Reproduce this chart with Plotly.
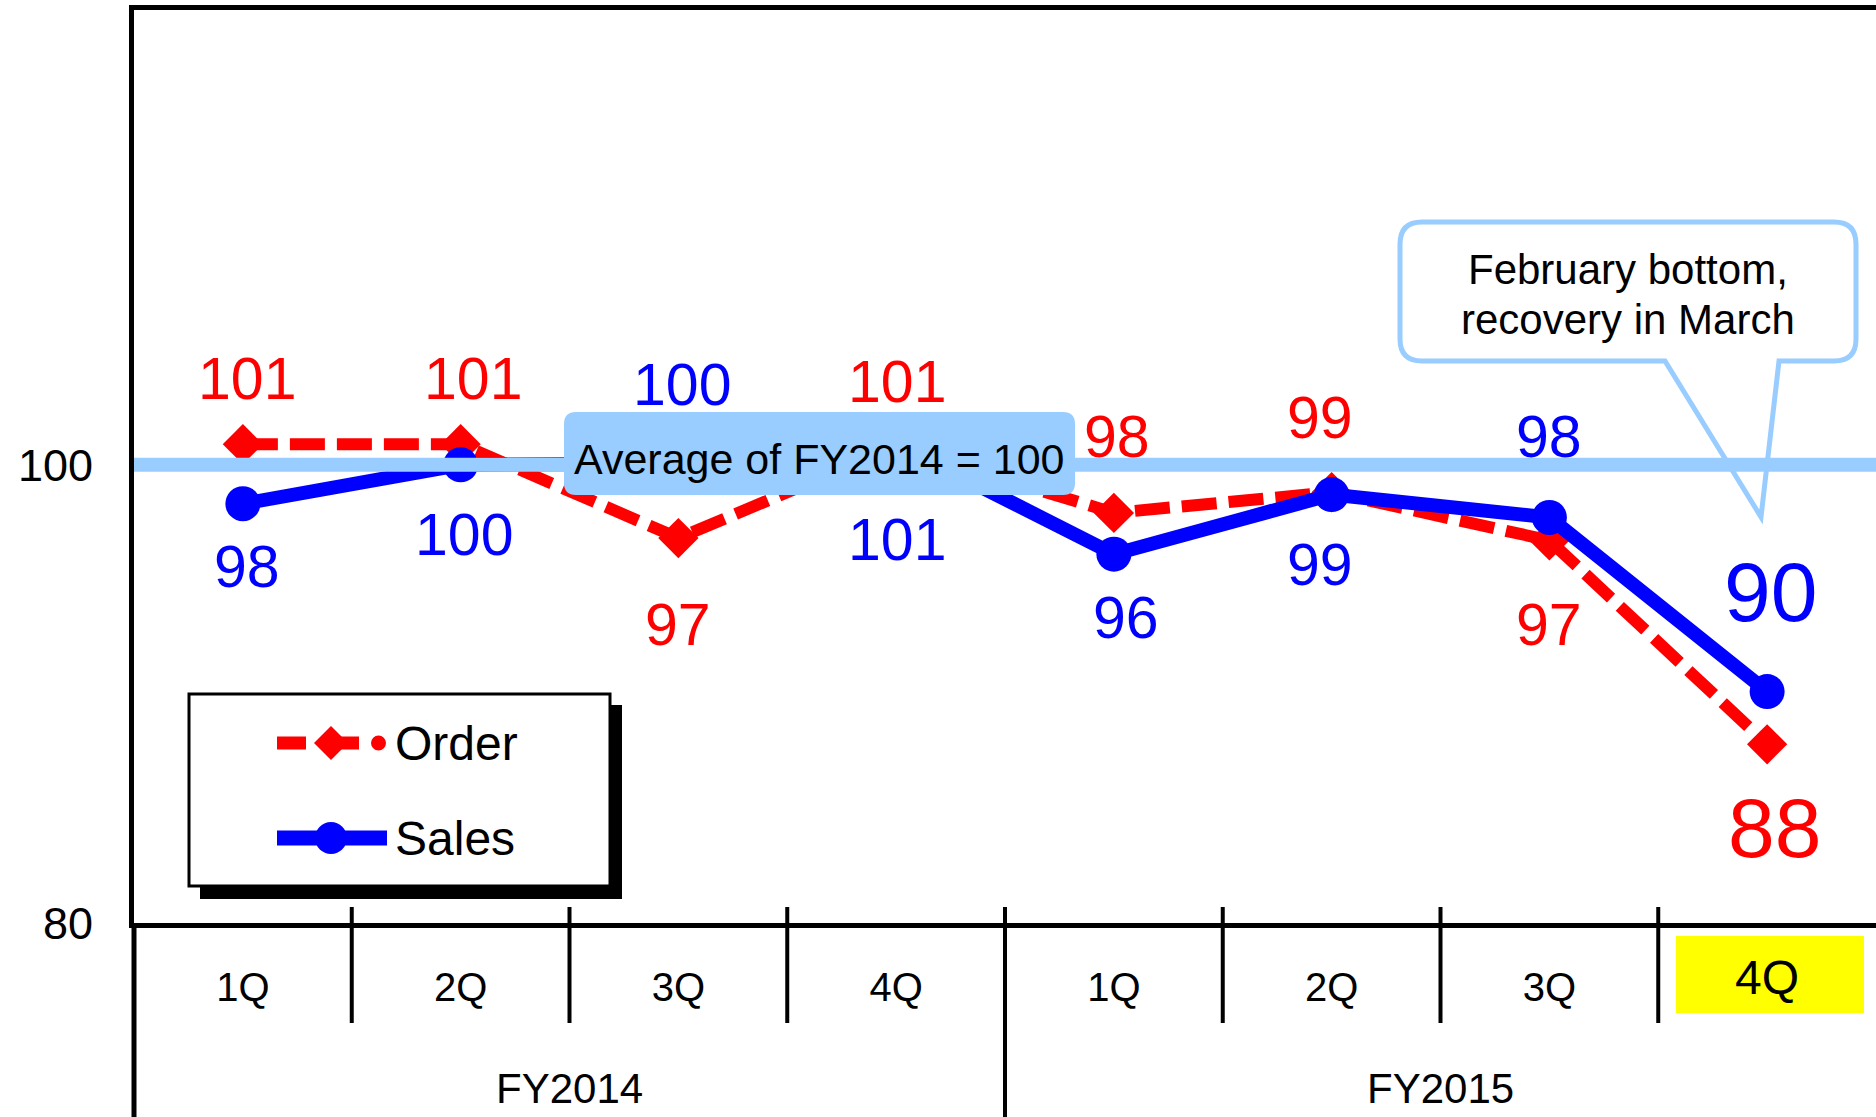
import plotly.graph_objects as go

# ---------------- data ----------------
fiscal_years = ["FY2014", "FY2015"]
quarters = ["1Q", "2Q", "3Q", "4Q", "1Q", "2Q", "3Q", "4Q"]
order_values = [100.9, 100.9, 96.8, 100.8, 97.9, 98.8, 96.7, 87.8]
sales_values = [98.3, 100.0, 100.05, 100.9, 96.1, 98.7, 97.7, 90.1]
order_labels = ["101", "101", "97", "101", "98", "99", "97", "88"]
sales_labels = ["98", "100", "100", "101", "96", "99", "98", "90"]
series_names = ["Order", "Sales"]
baseline_value = 100
y_ticks = [80, 100]
y_range = [80, 119.85]
highlight_index = 7
callout_lines = ["February bottom,", "recovery in March"]
average_text = "Average of FY2014 = 100"

# ---------------- styles / label placement (pixels) ----------------
FONT = "Liberation Sans, Arial, sans-serif"
RED = "#FF0000"
BLUE = "#0000FF"
LIGHT = "#99CCFF"
order_dx = [4, 12, 0, 1, 3, -12, 0, 7]
order_dy = [-65, -65, 87, -64, -76, -74, 85, 84]
sales_dx = [4, 3, 4, 1, 12, -12, 0, 3]
sales_dy = [63, 70, -79, 96, 64, 70, -80, -100]

W, H = 1876, 1117
ML, MR, MT, MB = 134, 0, 10, 194
PW, PH = W - ML - MR, H - MT - MB
n = len(quarters)
xs = list(range(n))
YSPAN = y_range[1] - y_range[0]


def px_to_x(px):
    return (px - ML) / (PW / n) - 0.5


def py_to_y(py):
    return y_range[0] + (MT + PH - py) / (PH / YSPAN)


def py_to_paper(py):
    return (MT + PH - py) / PH


def px_to_paper(px):
    return (px - ML) / PW


fig = go.Figure()
fig.add_trace(go.Scatter(
    x=xs, y=order_values, name=series_names[0], mode="lines+markers",
    line=dict(color=RED, width=12, dash="35px,12px"),
    marker=dict(symbol="diamond", size=31, color=RED),
    showlegend=False,
))
fig.add_trace(go.Scatter(
    x=xs, y=sales_values, name=series_names[1], mode="lines+markers",
    line=dict(color=BLUE, width=14),
    marker=dict(symbol="circle", size=35, color=BLUE),
    showlegend=False,
))

annotations = []
for i in range(n):
    for vals, labs, dx, dy, col in ((order_values, order_labels, order_dx, order_dy, RED),
                                    (sales_values, sales_labels, sales_dx, sales_dy, BLUE)):
        annotations.append(dict(
            x=xs[i], y=vals[i], text=labs[i], showarrow=False,
            xshift=dx[i], yshift=-dy[i], xanchor="center", yanchor="middle",
            font=dict(family=FONT, size=84 if i == highlight_index else 59, color=col),
        ))

# fiscal-year group labels
for k, fy in enumerate(fiscal_years):
    annotations.append(dict(x=1.5 + 4 * k, y=py_to_paper(1088), xref="x", yref="paper", text=fy,
                            showarrow=False, yanchor="middle",
                            font=dict(family=FONT, size=42, color="black")))

# highlighted latest quarter label
annotations.append(dict(x=xs[highlight_index], y=py_to_paper(977), xref="x", yref="paper",
                        text=quarters[highlight_index], showarrow=False, yanchor="middle",
                        font=dict(family=FONT, size=48, color="black")))

# average box text
annotations.append(dict(x=(px_to_x(564) + px_to_x(1075)) / 2, y=py_to_y(459),
                        text=average_text, showarrow=False,
                        xanchor="center", yanchor="middle",
                        font=dict(family=FONT, size=43, color="black")))
# callout text (two lines)
for line, ly in zip(callout_lines, (269, 319)):
    annotations.append(dict(x=px_to_x(1628), y=py_to_y(ly),
                            text=line, showarrow=False,
                            xanchor="center", yanchor="middle",
                            font=dict(family=FONT, size=42, color="black")))

# legend texts
LEG_Y = [743, 838]
for name, ly in zip(series_names, LEG_Y):
    annotations.append(dict(x=px_to_paper(393), y=py_to_paper(ly), xref="paper", yref="paper",
                            text=name, showarrow=False, xanchor="left", yanchor="middle",
                            font=dict(family=FONT, size=48, color="black")))


def rounded_rect_path(x0, x1, yt, yb, rpx, pointer=None):
    rx = rpx / (PW / n)
    ry = rpx / (PH / YSPAN)
    p = f"M{x0+rx},{yt} L{x1-rx},{yt} Q{x1},{yt} {x1},{yt-ry} L{x1},{yb+ry} Q{x1},{yb} {x1-rx},{yb} "
    if pointer:
        (pr, pt, pl) = pointer
        p += f"L{pr[0]},{pr[1]} L{pt[0]},{pt[1]} L{pl[0]},{pl[1]} "
    p += f"L{x0+rx},{yb} Q{x0},{yb} {x0},{yb+ry} L{x0},{yt-ry} Q{x0},{yt} {x0+rx},{yt} Z"
    return p


def pp(px, py):
    return f"{px_to_paper(px)},{py_to_paper(py)}"


shapes = []
# legend shadow + box
shapes.append(dict(type="rect", xref="paper", yref="paper",
                   x0=px_to_paper(200), x1=px_to_paper(622), y0=py_to_paper(705), y1=py_to_paper(899),
                   fillcolor="black", line=dict(width=0), layer="above"))
shapes.append(dict(type="rect", xref="paper", yref="paper",
                   x0=px_to_paper(189), x1=px_to_paper(610), y0=py_to_paper(694), y1=py_to_paper(886),
                   fillcolor="white", line=dict(color="black", width=3), layer="above"))
# legend sample: Order (dash - diamond - dash - dot)
oy = LEG_Y[0]
for a, b in ((277, 306), (322, 359)):
    shapes.append(dict(type="line", xref="paper", yref="paper",
                       x0=px_to_paper(a), x1=px_to_paper(b), y0=py_to_paper(oy), y1=py_to_paper(oy),
                       line=dict(color=RED, width=13), layer="above"))
shapes.append(dict(type="circle", xref="paper", yref="paper",
                   x0=px_to_paper(371), x1=px_to_paper(386), y0=py_to_paper(oy - 7.5), y1=py_to_paper(oy + 7.5),
                   fillcolor=RED, line=dict(width=0), layer="above"))
shapes.append(dict(type="path", xref="paper", yref="paper",
                   path=f"M{pp(331, oy-17)} L{pp(348, oy)} L{pp(331, oy+17)} L{pp(314, oy)} Z",
                   fillcolor=RED, line=dict(width=0), layer="above"))
# legend sample: Sales (solid line + circle)
sy = LEG_Y[1]
shapes.append(dict(type="line", xref="paper", yref="paper",
                   x0=px_to_paper(277), x1=px_to_paper(387), y0=py_to_paper(sy), y1=py_to_paper(sy),
                   line=dict(color=BLUE, width=15), layer="above"))
shapes.append(dict(type="circle", xref="paper", yref="paper",
                   x0=px_to_paper(315), x1=px_to_paper(347), y0=py_to_paper(sy - 16), y1=py_to_paper(sy + 16),
                   fillcolor=BLUE, line=dict(width=0), layer="above"))

# callout
cal_path = rounded_rect_path(
    px_to_x(1400), px_to_x(1856), py_to_y(222), py_to_y(361), 22,
    pointer=((px_to_x(1779), py_to_y(361)), (px_to_x(1761), py_to_y(517)), (px_to_x(1665), py_to_y(361))))
shapes.append(dict(type="path", xref="x", yref="y", path=cal_path,
                   fillcolor="white", line=dict(color=LIGHT, width=5), layer="above"))

# baseline (average = 100)
shapes.append(dict(type="line", xref="paper", yref="y", x0=0, x1=1, y0=baseline_value, y1=baseline_value,
                   line=dict(color=LIGHT, width=14), layer="above"))

# average box
avg_path = rounded_rect_path(px_to_x(564), px_to_x(1075), py_to_y(412), py_to_y(495), 12)
shapes.append(dict(type="path", xref="x", yref="y", path=avg_path,
                   fillcolor=LIGHT, line=dict(width=0), layer="above"))

# category separators below the axis
for i in range(n - 1):
    b = i + 0.5
    mid = (i == 3)
    shapes.append(dict(type="line", xref="x", yref="paper", x0=b, x1=b,
                       y0=py_to_paper(907), y1=py_to_paper(1023) if not mid else -0.3,
                       line=dict(color="black", width=4), layer="above"))
# left axis extension
shapes.append(dict(type="line", xref="paper", yref="paper", x0=0, x1=0, y0=0, y1=-0.3,
                   line=dict(color="black", width=5), layer="above"))
# yellow highlight for latest quarter
shapes.append(dict(type="rect", xref="x", yref="paper",
                   x0=px_to_x(1676), x1=px_to_x(1864), y0=py_to_paper(936), y1=py_to_paper(1013),
                   fillcolor="#FFFF00", line=dict(width=0), layer="below"))

tick_text = [q if i != highlight_index else "" for i, q in enumerate(quarters)]

fig.update_layout(
    width=W, height=H,
    margin=dict(l=ML, r=MR, t=MT, b=MB, pad=0),
    paper_bgcolor="white", plot_bgcolor="white",
    font=dict(family=FONT, color="black"),
    showlegend=False,
    xaxis=dict(range=[-0.5, n - 0.5], tickmode="array", tickvals=xs, ticktext=tick_text,
               showline=True, linecolor="black", linewidth=5, mirror=True,
               ticks="", showgrid=False, zeroline=False,
               tickfont=dict(family=FONT, size=40, color="black"), ticklabelstandoff=25),
    yaxis=dict(range=y_range, tickmode="array", tickvals=y_ticks, ticktext=[str(v) for v in y_ticks],
               showline=True, linecolor="black", linewidth=5, mirror=False,
               ticks="", showgrid=False, zeroline=False,
               tickfont=dict(family=FONT, size=45, color="black"), ticklabelstandoff=27),
    shapes=shapes,
    annotations=annotations,
)

fig.write_html("out.html", config={"displayModeBar": False},
               post_script="document.body.style.margin='0px';")
